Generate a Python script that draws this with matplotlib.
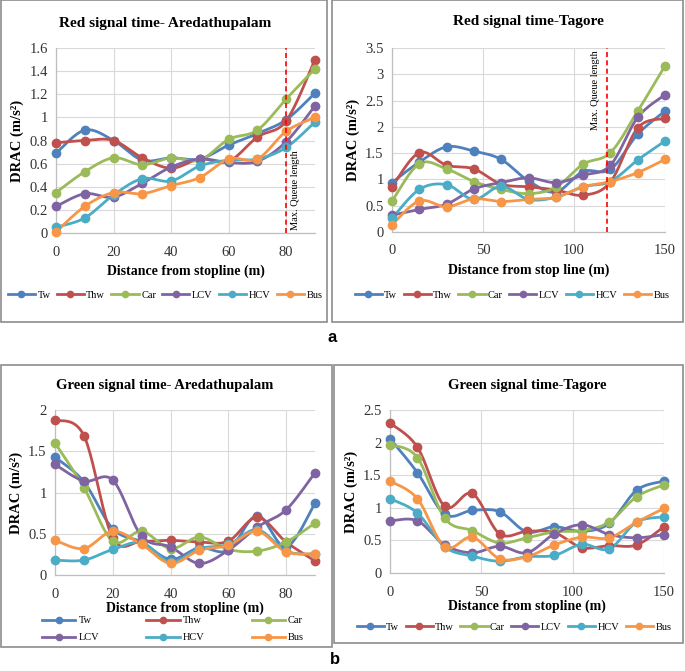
import numpy as np
import matplotlib
matplotlib.use("Agg")
import matplotlib.pyplot as plt
from matplotlib.lines import Line2D
from matplotlib.patches import Rectangle
from matplotlib.ticker import FuncFormatter, MultipleLocator

# ---------------- data ----------------
series = ["Tw", "Thw", "Car", "LCV", "HCV", "Bus"]
colors = ["#4F81BD", "#C0504D", "#9BBB59", "#8064A2", "#4BACC6", "#F79646"]

x_ared = [0, 10, 20, 30, 40, 50, 60, 70, 80, 90]
x_tag = [0, 15, 30, 45, 60, 75, 90, 105, 120, 135, 150]

red_ared_tw = [0.69, 0.89, 0.80, 0.63, 0.65, 0.64, 0.76, 0.86, 0.98, 1.21]
red_ared_thw = [0.78, 0.80, 0.80, 0.65, 0.56, 0.64, 0.62, 0.83, 0.97, 1.50]
red_ared_car = [0.35, 0.53, 0.65, 0.59, 0.65, 0.63, 0.81, 0.89, 1.16, 1.42]
red_ared_lcv = [0.23, 0.34, 0.31, 0.43, 0.57, 0.64, 0.61, 0.62, 0.79, 1.10]
red_ared_hcv = [0.05, 0.13, 0.33, 0.47, 0.45, 0.58, 0.63, 0.64, 0.74, 0.96]
red_ared_bus = [0.01, 0.23, 0.35, 0.34, 0.41, 0.48, 0.64, 0.64, 0.88, 1.00]

red_tag_tw = [0.94, 1.33, 1.62, 1.54, 1.38, 0.97, 0.76, 1.15, 1.19, 1.86, 2.30]
red_tag_thw = [0.86, 1.51, 1.27, 1.20, 0.91, 0.86, 0.80, 0.70, 0.95, 1.98, 2.16]
red_tag_car = [0.59, 1.30, 1.20, 0.96, 0.81, 0.73, 0.85, 1.29, 1.51, 2.30, 3.16]
red_tag_lcv = [0.32, 0.43, 0.53, 0.82, 0.94, 1.03, 0.94, 1.08, 1.27, 2.18, 2.61]
red_tag_hcv = [0.26, 0.81, 0.90, 0.62, 0.87, 0.62, 0.66, 0.86, 0.96, 1.37, 1.73]
red_tag_bus = [0.14, 0.59, 0.48, 0.63, 0.58, 0.62, 0.66, 0.86, 0.96, 1.13, 1.38]

green_ared_tw = [1.43, 1.13, 0.56, 0.40, 0.19, 0.33, 0.30, 0.72, 0.34, 0.87]
green_ared_thw = [1.88, 1.69, 0.45, 0.41, 0.42, 0.40, 0.41, 0.70, 0.40, 0.17]
green_ared_car = [1.60, 1.06, 0.41, 0.53, 0.32, 0.46, 0.31, 0.29, 0.40, 0.63]
green_ared_lcv = [1.34, 1.14, 1.15, 0.47, 0.34, 0.14, 0.30, 0.58, 0.79, 1.24]
green_ared_hcv = [0.18, 0.18, 0.31, 0.39, 0.16, 0.32, 0.37, 0.55, 0.29, 0.25]
green_ared_bus = [0.42, 0.32, 0.53, 0.37, 0.14, 0.30, 0.36, 0.53, 0.28, 0.26]

green_tag_tw = [2.06, 1.54, 0.90, 0.96, 0.94, 0.63, 0.71, 0.64, 0.76, 1.27, 1.41]
green_tag_thw = [2.30, 1.93, 1.02, 1.22, 0.60, 0.64, 0.62, 0.39, 0.42, 0.43, 0.71]
green_tag_car = [1.97, 1.77, 0.84, 0.65, 0.46, 0.54, 0.63, 0.65, 0.78, 1.17, 1.35]
green_tag_lcv = [0.80, 0.80, 0.43, 0.31, 0.41, 0.31, 0.60, 0.74, 0.59, 0.54, 0.59]
green_tag_hcv = [1.14, 0.92, 0.40, 0.26, 0.18, 0.25, 0.27, 0.44, 0.37, 0.78, 0.86]
green_tag_bus = [1.41, 1.14, 0.40, 0.55, 0.22, 0.25, 0.43, 0.55, 0.54, 0.78, 0.99]

titles = ["Red signal time- Aredathupalam", "Red signal time-Tagore",
          "Green signal time- Aredathupalam", "Green signal time-Tagore"]
xlabels = ["Distance from stopline (m)", "Distance from stop line (m)",
           "Distance from stopline (m)", "Distance from stopline (m)"]
ylabel = "DRAC (m/s²)"
queue_label = "Max. Queue length"
queue_x = [80, 118]

panels = [
    (x_ared, [red_ared_tw, red_ared_thw, red_ared_car, red_ared_lcv, red_ared_hcv, red_ared_bus]),
    (x_tag, [red_tag_tw, red_tag_thw, red_tag_car, red_tag_lcv, red_tag_hcv, red_tag_bus]),
    (x_ared, [green_ared_tw, green_ared_thw, green_ared_car, green_ared_lcv, green_ared_hcv, green_ared_bus]),
    (x_tag, [green_tag_tw, green_tag_thw, green_tag_car, green_tag_lcv, green_tag_hcv, green_tag_bus]),
]


def smooth(x, y, n=24):
    """Excel-like smoothed line (Catmull-Rom via cubic Bezier)."""
    P = np.column_stack([x, y]).astype(float)
    out = [P[0]]
    t = np.linspace(0, 1, n)[1:, None]
    for i in range(len(P) - 1):
        p0 = P[i - 1] if i > 0 else P[i]
        p1, p2 = P[i], P[i + 1]
        p3 = P[i + 2] if i + 2 < len(P) else P[i + 1]
        b1 = p1 + (p2 - p0) / 6.0
        b2 = p2 - (p3 - p1) / 6.0
        seg = ((1 - t) ** 3) * p1 + 3 * ((1 - t) ** 2) * t * b1 + 3 * (1 - t) * t ** 2 * b2 + t ** 3 * p2
        out.extend(seg)
    out = np.array(out)
    return out[:, 0], out[:, 1]


plt.rcParams['font.family'] = ['Liberation Serif', 'DejaVu Serif']

fig = plt.figure(figsize=(6.85, 6.71), dpi=100)
W, H = 685.0, 671.0


def fr(px0, py0, px1, py1):
    return [px0 / W, 1 - py1 / H, (px1 - px0) / W, (py1 - py0) / H]


# panel boxes
for (bx0, by0, bx1, by1) in [(1, 0.5, 327, 322), (332, 0.5, 683, 322),
                             (1, 365, 332, 647), (334, 365, 683, 643)]:
    fig.patches.append(Rectangle((bx0 / W, 1 - by1 / H), (bx1 - bx0) / W, (by1 - by0) / H,
                                 transform=fig.transFigure, fill=False,
                                 edgecolor="#8c8c8c", linewidth=1.2))

axes_px = [(56, 48, 315, 233), (392, 48, 665, 232), (55, 410, 315, 575), (390, 410, 664, 573)]
ylims = [(0, 1.6, 0.2), (0, 3.5, 0.5), (0, 2, 0.5), (0, 2.5, 0.5)]
xlims = [(0, 90, 20), (0, 150, 50), (0, 90, 20), (0, 150, 50)]
title_y = [23, 22, 385, 385]
fmt = FuncFormatter(lambda v, p: f"{v:g}")

for k, (xs, ys_list) in enumerate(panels):
    ax = fig.add_axes(fr(*axes_px[k]))
    for name, ys, c in zip(series, ys_list, colors):
        sx, sy = smooth(xs, ys)
        ax.plot(sx, sy, color=c, lw=2.0, zorder=3, clip_on=False)
        ax.plot(xs, ys, 'o', color=c, ms=6, zorder=4, clip_on=False)
    y0, y1, ys_step = ylims[k]
    x0, x1, xs_step = xlims[k]
    ax.set_ylim(y0, y1)
    ax.set_xlim(x0, x1)
    ax.yaxis.set_major_locator(MultipleLocator(ys_step))
    ax.xaxis.set_major_locator(MultipleLocator(xs_step))
    ax.yaxis.set_major_formatter(fmt)
    ax.xaxis.set_major_formatter(fmt)
    ax.grid(True, color="#d9d9d9", lw=0.8, zorder=0)
    ax.set_axisbelow(True)
    for s in ["top", "right"]:
        ax.spines[s].set_visible(False)
    for s in ["left", "bottom"]:
        ax.spines[s].set_color("#bfbfbf")
        ax.spines[s].set_linewidth(0.9)
    ax.tick_params(length=0, labelsize=10.5, pad=6, colors="#333333")
    ax.tick_params(axis='x', pad=9)
    ax.set_ylabel(ylabel, fontsize=10.5, fontweight='bold', labelpad=4)
    ax.set_xlabel(xlabels[k], fontsize=10, fontweight='bold', labelpad=4 if k < 2 else 1)
    px0, py0, px1, py1 = axes_px[k]
    fig.text(((px0 + px1) / 2) / W if k % 2 else 165 / W, 1 - title_y[k] / H, titles[k],
             fontsize=11 if k < 2 else 10.5, fontweight='bold', ha='center', va='center')

    if k < 2:
        qx = queue_x[k]
        ax.axvline(qx, color="#ff0000", ls=(0, (3, 2)), lw=1.2, zorder=5)
        if k == 0:
            ax.text(qx + 3.2, 0.03, queue_label, rotation=90, fontsize=7.5, ha='center', va='bottom')
        else:
            ax.text(qx - 6, y1 - 0.05, queue_label, rotation=90, fontsize=7.5, ha='center', va='top')

    handles = [Line2D([0], [0], color=c, lw=2.0, marker='o', ms=4.5) for c in colors]
    if k == 2:
        order = [0, 3, 1, 4, 2, 5]
        leg = fig.legend([handles[i] for i in order], [series[i] for i in order],
                         loc='upper left',
                         bbox_to_anchor=(42 / W, 1 - 616 / H - 0.01, 262 / W, 0.01),
                         ncol=3, mode='expand', frameon=False, fontsize=7.5,
                         handlelength=3.2, handletextpad=0.3, labelspacing=0.75,
                         borderaxespad=0, borderpad=0)
    else:
        cy = {0: 295, 1: 295, 3: 627}[k]
        cx = {0: 165, 1: 512, 3: 514}[k]
        leg = fig.legend(handles, series, loc='center', bbox_to_anchor=(cx / W, 1 - cy / H),
                         ncol=6, frameon=False, fontsize=7.5, handlelength=2.6,
                         handletextpad=0.25, columnspacing=0.6, borderaxespad=0,
                         borderpad=0)

fig.text(332 / W, 1 - 338 / H, "a", fontsize=12, fontweight='bold', family='Liberation Sans',
         ha='center', va='center')
fig.text(335 / W, 1 - 660 / H, "b", fontsize=12, fontweight='bold', family='Liberation Sans',
         ha='center', va='center')

fig.savefig("out.png", dpi=100)
